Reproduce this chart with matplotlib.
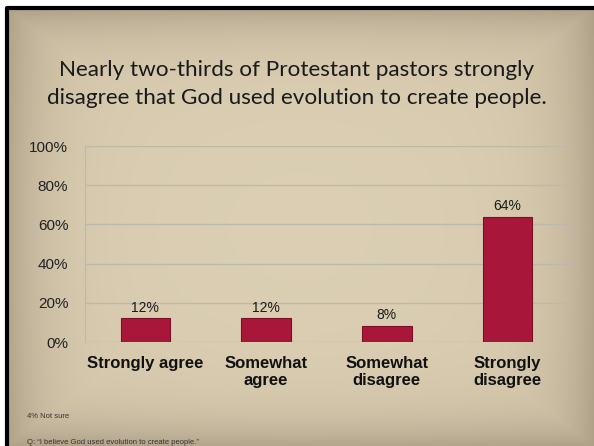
import numpy as np
import matplotlib.pyplot as plt

# data
categories = ["Strongly agree", "Somewhat\nagree", "Somewhat\ndisagree", "Strongly\ndisagree"]
values = [12, 12, 8, 64]
ticks = [0, 20, 40, 60, 80, 100]
title = "Nearly two-thirds of Protestant pastors strongly\ndisagree that God used evolution to create people."
note = "4% Not sure"
question = "Q: \u201cI believe God used evolution to create people.\u201d"

W, H = 594, 446
fig = plt.figure(figsize=(W / 100, H / 100), dpi=100, facecolor="white")

# parchment background, slightly darker toward the edges
bg = fig.add_axes([7 / W, 0, 1 - 7 / W, 1 - 8 / H])
bg.set_axis_off()
yy, xx = np.mgrid[-1:1:200j, -1:1:260j]
r = np.clip(np.maximum(np.abs(xx) ** 8, np.abs(yy) ** 8) * 0.55 + (xx ** 2 + yy ** 2) * 0.08, 0, 1)
light = np.array([0.86, 0.81, 0.70])
dark = np.array([0.62, 0.56, 0.47])
img = light[None, None, :] * (1 - r[..., None]) + dark[None, None, :] * r[..., None]
bg.imshow(img, aspect="auto", extent=[0, 1, 0, 1], interpolation="bilinear")
# black frame only shows on the top and left of the slide
bg.plot([0, 0, 1], [0, 1, 1], color="black", linewidth=3, transform=bg.transAxes,
        clip_on=False)
bg.set_xlim(0, 1)
bg.set_ylim(0, 1)

fig.text(0.5, 1 - 84 / H, title, ha="center", va="center", fontsize=16.2,
         family="Lato", color="#1a1a1a", linespacing=1.45)

ax = fig.add_axes([85 / W, 1 - 342 / H, (568 - 85) / W, (342 - 146) / H])
ax.patch.set_alpha(0)
x = np.arange(len(categories))
bars = ax.bar(x, values, width=0.41, color="#a8173a", edgecolor="#7a0f28",
              linewidth=0.8, zorder=3)
for b, v in zip(bars, values):
    ax.text(b.get_x() + b.get_width() / 2, v + 2, f"{v}%", ha="center", va="bottom",
            fontsize=10, family="Liberation Sans", color="#1a1a1a")

ax.set_xlim(-0.5, len(categories) - 0.5)
ax.set_ylim(0, 100)
ax.set_yticks(ticks)
ax.set_yticklabels([f"{t}%" for t in ticks], fontsize=11, family="Liberation Sans",
                   color="#222222")
ax.yaxis.grid(True, color="#bdb8ad", linewidth=1, zorder=0)
ax.set_xticks(x)
ax.set_xticklabels(categories, fontsize=12, fontweight="bold", family="Liberation Sans",
                   linespacing=1.15, va="top", color="#111111")
ax.tick_params(axis="x", length=0, pad=10)
ax.tick_params(axis="y", length=0, pad=12)
for s in ["top", "right", "bottom"]:
    ax.spines[s].set_visible(False)
ax.spines["left"].set_color("#bdb8ad")

fig.text(27 / W, 1 - 417 / H, note, fontsize=5.5, family="Liberation Sans",
         color="#333333", va="center")
fig.text(27 / W, 1 - 442 / H, question, fontsize=5.5, family="Liberation Sans",
         color="#333333", va="center")

fig.savefig("out.png", dpi=100)
